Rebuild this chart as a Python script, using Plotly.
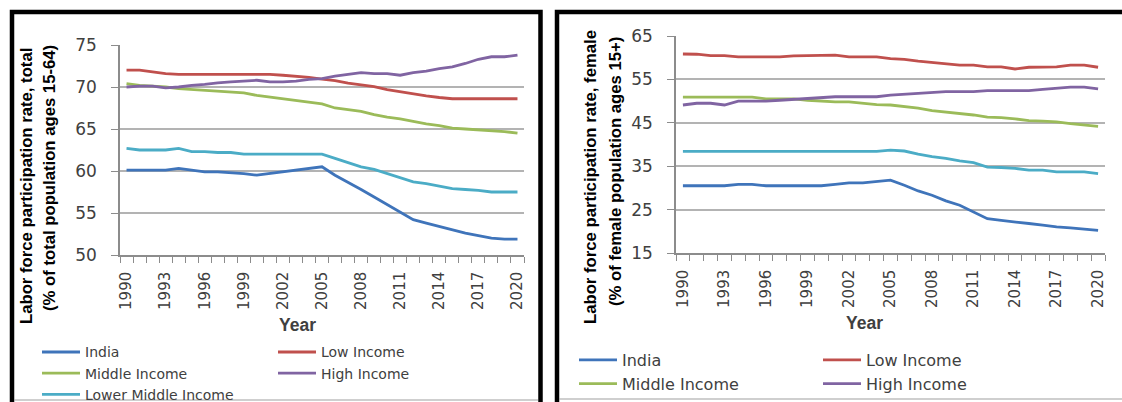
import plotly.graph_objects as go

W, H = 1122, 402

years = list(range(1990, 2021))
tick_years = list(range(1990, 2021, 3))

# ---- Left panel: total (% of total population ages 15-64)
india_total = [60.1, 60.1, 60.1, 60.1, 60.3, 60.1, 59.9, 59.9, 59.8, 59.7, 59.5, 59.7, 59.9, 60.1, 60.3, 60.5,
               59.5, 58.7, 57.8, 56.9, 56.0, 55.1, 54.2, 53.8, 53.4, 53.0, 52.6, 52.3, 52.0, 51.9, 51.9]
low_total = [72.0, 72.0, 71.8, 71.6, 71.5, 71.5, 71.5, 71.5, 71.5, 71.5, 71.5, 71.5, 71.4, 71.3, 71.15, 70.95,
             70.75, 70.45, 70.25, 70.05, 69.7, 69.45, 69.15, 68.95, 68.75, 68.6, 68.6, 68.6, 68.6, 68.6, 68.6]
middle_total = [70.4, 70.2, 70.1, 70.0, 69.8, 69.7, 69.6, 69.5, 69.4, 69.3, 69.0, 68.8, 68.6, 68.4, 68.2, 68.0,
                67.5, 67.3, 67.1, 66.7, 66.4, 66.2, 65.9, 65.6, 65.4, 65.1, 65.0, 64.9, 64.8, 64.7, 64.5]
high_total = [70.0, 70.1, 70.1, 69.9, 70.0, 70.2, 70.3, 70.5, 70.6, 70.7, 70.8, 70.6, 70.6, 70.7, 70.9, 71.0,
              71.3, 71.5, 71.7, 71.6, 71.6, 71.4, 71.7, 71.9, 72.2, 72.4, 72.8, 73.3, 73.6, 73.6, 73.8]
lmi_total = [62.7, 62.5, 62.5, 62.5, 62.7, 62.3, 62.3, 62.2, 62.2, 62.0, 62.0, 62.0, 62.0, 62.0, 62.0, 62.0,
             61.5, 61.0, 60.5, 60.2, 59.7, 59.2, 58.7, 58.5, 58.2, 57.9, 57.8, 57.7, 57.5, 57.5, 57.5]

# ---- Right panel: female (% of female population ages 15+)
india_female = [30.5, 30.5, 30.5, 30.5, 30.8, 30.8, 30.5, 30.5, 30.5, 30.5, 30.5, 30.8, 31.15, 31.15, 31.4, 31.8,
                30.6, 29.3, 28.3, 27.0, 26.0, 24.5, 22.9, 22.5, 22.2, 21.8, 21.4, 21.0, 20.8, 20.5, 20.2]
low_female = [60.85, 60.8, 60.5, 60.5, 60.2, 60.2, 60.2, 60.2, 60.4, 60.5, 60.6, 60.6, 60.2, 60.2, 60.2, 59.8,
              59.6, 59.2, 58.9, 58.6, 58.3, 58.3, 57.9, 57.9, 57.4, 57.8, 57.9, 57.9, 58.3, 58.3, 57.8]
middle_female = [50.9, 50.9, 50.9, 50.9, 50.9, 50.9, 50.5, 50.5, 50.5, 50.2, 50.0, 49.8, 49.8, 49.5, 49.2, 49.1,
                 48.8, 48.4, 47.8, 47.5, 47.2, 46.8, 46.3, 46.2, 45.9, 45.5, 45.4, 45.2, 44.8, 44.5, 44.2]
high_female = [49.1, 49.5, 49.5, 49.1, 50.0, 50.0, 50.0, 50.2, 50.4, 50.6, 50.8, 51.0, 51.0, 51.0, 51.0, 51.4,
               51.6, 51.8, 52.1, 52.2, 52.2, 52.2, 52.4, 52.4, 52.4, 52.4, 52.7, 53.0, 53.2, 53.2, 52.8]
lmi_female = [38.4, 38.4, 38.4, 38.4, 38.4, 38.4, 38.4, 38.4, 38.4, 38.4, 38.4, 38.4, 38.4, 38.4, 38.4, 38.7,
              38.5, 37.8, 37.2, 36.8, 36.2, 35.8, 34.8, 34.7, 34.5, 34.1, 34.1, 33.7, 33.7, 33.7, 33.3]

names = ["India", "Low Income", "Middle Income", "High Income", "Lower Middle Income"]
colors = ["#3F74BA", "#C0504D", "#9BBB59", "#8064A2", "#4BACC6"]

left_series = [india_total, low_total, middle_total, high_total, lmi_total]
right_series = [india_female, low_female, middle_female, high_female, lmi_female]
left_legends = ["legend", "legend2", "legend", "legend2", "legend"]
right_legends = ["legend3", "legend4", "legend3", "legend4", "legend3"]

BOLD = "Liberation Sans"
TICKF = "DejaVu Sans"
LEGF = "DejaVu Sans"
GRID = "#B3B3B3"
AXIS = "#8C8C8C"
TXT = "#404040"


def px_x(v):
    return v / W


def px_y(v):
    return 1 - v / H


fig = go.Figure()

for i, (nm, col) in enumerate(zip(names, colors)):
    fig.add_trace(go.Scatter(x=years, y=left_series[i], mode="lines", name=nm,
                             line=dict(color=col, width=2.8), xaxis="x", yaxis="y",
                             legend=left_legends[i]))
for i, (nm, col) in enumerate(zip(names, colors)):
    fig.add_trace(go.Scatter(x=years, y=right_series[i], mode="lines", name=nm,
                             line=dict(color=col, width=2.8), xaxis="x2", yaxis="y2",
                             legend=right_legends[i], showlegend=(i < 4)))

xcommon = dict(range=[1989.5, 2020.5], tickmode="array", tickvals=tick_years,
               ticktext=[str(t) for t in tick_years], tickangle=-90, ticks="",
               showgrid=False, zeroline=False, showline=True, linecolor=AXIS, linewidth=1.5,
               tickfont=dict(family=TICKF, size=15, color=TXT), ticklabelstandoff=9,
               minor=dict(ticks="outside", ticklen=6, tickcolor=AXIS, tickwidth=1.2,
                          tick0=1989.5, dtick=1, showgrid=False),
               fixedrange=True)
ycommon = dict(showgrid=True, gridcolor=GRID, gridwidth=1.8, zeroline=False, showline=True,
               linecolor=AXIS, linewidth=1.5, ticks="outside", ticklen=7, tickcolor=AXIS,
               tickfont=dict(family=TICKF, size=17, color=TXT), ticklabelstandoff=11,
               fixedrange=True)

leg_common = dict(xanchor="left", yanchor="top", orientation="v", bgcolor="rgba(0,0,0,0)",
                  tracegroupgap=0, itemwidth=38)
fig.update_layout(
    width=W, height=H, margin=dict(l=0, r=0, t=0, b=0, autoexpand=False),
    paper_bgcolor="white", plot_bgcolor="white",
    xaxis=dict(domain=[px_x(120), px_x(524)], anchor="y", **xcommon),
    yaxis=dict(domain=[px_y(255), px_y(45)], anchor="x", range=[50, 75], dtick=5, tick0=50, **ycommon),
    xaxis2=dict(domain=[px_x(676), px_x(1105)], anchor="y2", **xcommon),
    yaxis2=dict(domain=[px_y(253), px_y(36)], anchor="x2", range=[15, 65], dtick=10, tick0=15, **ycommon),
    legend=dict(x=px_x(37), y=px_y(336.4), font=dict(family=LEGF, size=14, color=TXT), **leg_common),
    legend2=dict(x=px_x(273), y=px_y(336.4), font=dict(family=LEGF, size=14, color=TXT), **leg_common),
    legend3=dict(x=px_x(574), y=px_y(343), font=dict(family=LEGF, size=16, color=TXT), **leg_common),
    legend4=dict(x=px_x(818), y=px_y(343), font=dict(family=LEGF, size=16, color=TXT), **leg_common),
    showlegend=True,
)

# Panel frames
shapes = [
    dict(type="rect", xref="paper", yref="paper", x0=px_x(12), x1=px_x(540.5), y0=px_y(410), y1=px_y(12),
         line=dict(color="black", width=4.5), fillcolor="rgba(0,0,0,0)", layer="above"),
    dict(type="rect", xref="paper", yref="paper", x0=px_x(557), x1=px_x(1135), y0=px_y(410), y1=px_y(12),
         line=dict(color="black", width=4.5), fillcolor="rgba(0,0,0,0)", layer="above"),
    dict(type="line", xref="paper", yref="paper", x0=px_x(14), x1=px_x(538), y0=px_y(400), y1=px_y(400),
         line=dict(color="#A0A0A0", width=1.2)),
    dict(type="line", xref="paper", yref="paper", x0=px_x(559), x1=1, y0=px_y(399), y1=px_y(399),
         line=dict(color="#A0A0A0", width=1.2)),
]
fig.update_layout(shapes=shapes)

ann = []
title_font = dict(family=BOLD, size=16.7, color="black")
for txt, xx, yy in [("<b>Labor force participation rate, total</b>", 26, 186),
                    ("<b>(% of total population ages 15-64)</b>", 49, 178),
                    ("<b>Labor force participation rate, female</b>", 590, 177),
                    ("<b>(% of female population ages 15+)</b>", 615, 172)]:
    ann.append(dict(text=txt, x=px_x(xx), y=px_y(yy), xref="paper", yref="paper",
                    textangle=-90, showarrow=False, xanchor="center", yanchor="middle", font=title_font))
for xx, yy in [(297, 325), (864, 323)]:
    ann.append(dict(text="<b>Year</b>", x=px_x(xx), y=px_y(yy), xref="paper", yref="paper",
                    showarrow=False, xanchor="center", yanchor="middle",
                    font=dict(family=BOLD, size=17.5, color=TXT)))
fig.update_layout(annotations=ann)

fig.write_html("out.html")
